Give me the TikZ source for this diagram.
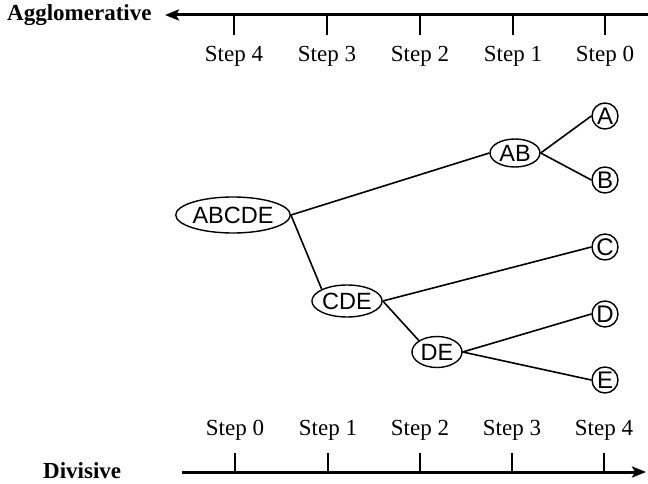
\documentclass[tikz,border=0pt]{standalone}
\usepackage{fontspec}
\setmainfont{Liberation Serif}
\setsansfont{Liberation Sans}
\usetikzlibrary{shapes.geometric,arrows.meta}
\begin{document}
\begin{tikzpicture}[x=1pt,y=-1pt,
  axisline/.style={line width=3pt},
  tickline/.style={line width=1.2pt},
  edge/.style={line width=1.6pt},
  tip/.style={-{Stealth[length=14pt,width=11pt,inset=3pt]}},
  steplabel/.style={font=\fontsize{23}{23}\selectfont, inner sep=0pt, anchor=base},
  axlabel/.style={font=\fontsize{23}{23}\selectfont\bfseries, inner sep=0pt, anchor=base west},
  leaf/.style={circle, draw, line width=1.4pt, minimum size=26pt, inner sep=0pt,
    font=\sffamily\fontsize{24}{24}\selectfont},
  cluster/.style={ellipse, draw, line width=1.4pt, inner sep=0pt,
    font=\sffamily\fontsize{23.5}{23.5}\selectfont}
]
\useasboundingbox (0,0) rectangle (648,484);
% top axis
\node[axlabel] (agg) at (7,21) {Agglomerative};
\coordinate (tl) at (165,15);
\coordinate (tr) at (648,15);
\draw[axisline, tip] (tr) -- (tl);
\foreach \x/\s [count=\i] in {234/4,327/3,420/2,513/1,605/0}{
  \coordinate (tt\i) at (\x,15);
  \coordinate (tb\i) at (\x,35);
  \draw[tickline] (tt\i) -- (tb\i);
  \node[steplabel] (ts\i) at (\x,62) {Step \s};
}
% bottom axis
\node[axlabel] (div) at (43,478) {Divisive};
\coordinate (bl) at (182,472);
\coordinate (br) at (646,472);
\draw[axisline, tip] (bl) -- (br);
\foreach \x/\s [count=\i] in {235/0,328/1,420/2,512/3,604/4}{
  \coordinate (bt\i) at (\x,472);
  \coordinate (bb\i) at (\x,453);
  \draw[tickline] (bt\i) -- (bb\i);
  \node[steplabel] (bs\i) at (\x,435) {Step \s};
}
% tree nodes
\node[leaf] (A) at (605,116) {A};
\node[leaf] (B) at (605,180) {B};
\node[leaf] (C) at (605,247) {C};
\node[leaf] (D) at (605,314) {D};
\node[leaf] (E) at (605,380) {E};
\node[cluster, minimum width=50pt, minimum height=28pt] (AB) at (515,153) {AB};
\node[cluster, minimum width=100pt, minimum height=36pt] (ABCDE) at (233,215) {ABCDE};
\node[cluster, minimum width=60pt, minimum height=32pt] (CDE) at (347,301) {CDE};
\node[cluster, minimum width=50pt, minimum height=31pt] (DE) at (437,352) {DE};
% edges
\draw[edge] (ABCDE.east) -- (AB.west);
\draw[edge] (ABCDE.east) -- (CDE.north west);
\draw[edge] (AB.east) -- (A.west);
\draw[edge] (AB.east) -- (B.west);
\draw[edge] (CDE.east) -- (C.west);
\draw[edge] (CDE.east) -- (DE.north west);
\draw[edge] (DE.east) -- (D.west);
\draw[edge] (DE.east) -- (E.west);
\end{tikzpicture}
\end{document}
